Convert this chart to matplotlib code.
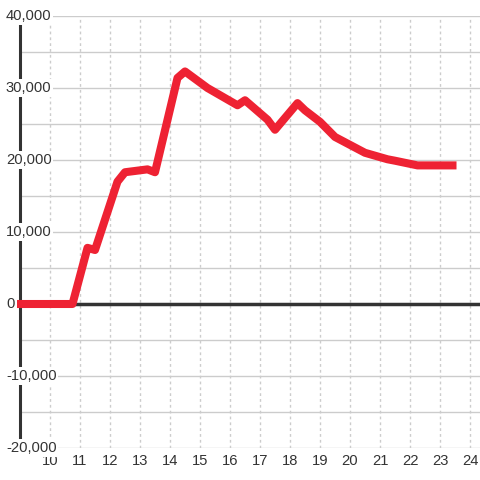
import matplotlib.pyplot as plt

# Werte
hours = [8.9, 10.75, 11.25, 11.5, 12.25, 12.5, 13.25, 13.5, 14.25, 14.5, 15.25,
         16.25, 16.5, 17.25, 17.5, 18.25, 18.5, 19.0, 19.5, 20.5, 21.25, 21.5,
         22.25, 23.55]
values = [0, 0, 7800, 7500, 17000, 18300, 18700, 18300, 31400, 32300, 30000,
          27600, 28300, 25600, 24200, 27900, 26900, 25300, 23200, 21000, 20100,
          19900, 19250, 19250]

y_ticks = [-20000, -10000, 0, 10000, 20000, 30000, 40000]
y_grid = list(range(-20000, 40001, 5000))
x_ticks = list(range(10, 25))

plt.rcParams['font.family'] = ['Liberation Sans', 'DejaVu Sans']

fig = plt.figure(figsize=(4.8, 4.8), dpi=100)
ax = fig.add_axes([20 / 480, 32 / 480, 460 / 480, 432 / 480])
ax.set_xlim(9.0, 24.333)
ax.set_ylim(-20000, 40000)

for s in ['top', 'right', 'bottom']:
    ax.spines[s].set_visible(False)
ax.spines['left'].set_color('#333333')
ax.spines['left'].set_linewidth(2.2)
ax.spines['left'].set_zorder(2)
ax.set_xticks([])
ax.set_yticks([])

# Gitter
for y in y_grid:
    ax.axhline(y, color='#cccccc', lw=1, zorder=1)
for x in x_ticks:
    ax.axvline(x, color='#cccccc', lw=1, ls=(0, (2, 2.2)), zorder=1)

# Nulllinie
ax.axhline(0, color='#333333', lw=2.5, zorder=3)

# Beschriftungen
for y in y_ticks:
    ax.text(-14 / 460, y, f'{y:,}', transform=ax.get_yaxis_transform(),
            ha='left', va='center', fontsize=10.6, color='#333333', zorder=5,
            clip_on=False,
            bbox=dict(facecolor='white', edgecolor='none', pad=1.2))
for x in x_ticks:
    ax.text(x, -13 / 432, str(x), transform=ax.get_xaxis_transform(),
            ha='center', va='center', fontsize=10.6, color='#333333',
            clip_on=False)

# Datenlinie
ax.plot(hours, values, color='#ee2233', lw=5.8, solid_joinstyle='round',
        solid_capstyle='butt', zorder=6, clip_on=False)

fig.savefig('out.png', dpi=100, facecolor='white')
